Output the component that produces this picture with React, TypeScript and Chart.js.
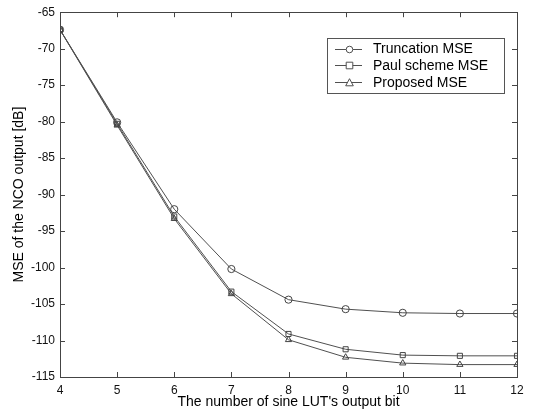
import React, { useEffect, useRef } from "react";
import { Chart, registerables } from "chart.js";

Chart.register(...registerables);

const bits = [4, 5, 6, 7, 8, 9, 10, 11, 12];
const truncationMSE = [-67.4, -80.1, -92.0, -100.2, -104.4, -105.7, -106.2, -106.3, -106.3];
const paulMSE = [-67.4, -80.3, -93.0, -103.3, -109.1, -111.2, -112.0, -112.1, -112.1];
const proposedMSE = [-67.4, -80.5, -93.3, -103.6, -109.9, -112.3, -113.1, -113.3, -113.3];
const seriesLabels = ["Truncation MSE", "Paul scheme MSE", "Proposed MSE"];
const seriesMarkers = ["circle", "rect", "triangle"];
const xTitle = "The number of sine LUT's output bit";
const yTitle = "MSE of the NCO output [dB]";

const FONT = "'Liberation Sans', Arial, sans-serif";
const LINE = "#505050";

const boxPlugin = {
  id: "matlabBox",
  afterDraw(chart: any) {
    const { ctx, chartArea, scales } = chart;
    const { left, right, top, bottom } = chartArea;
    ctx.save();
    ctx.strokeStyle = "#444";
    ctx.lineWidth = 1;
    ctx.strokeRect(Math.round(left) + 0.5, Math.round(top) + 0.5, Math.round(right - left), Math.round(bottom - top));
    const tl = 5;
    ctx.beginPath();
    scales.x.ticks.forEach((t: any) => {
      const px = Math.round(scales.x.getPixelForValue(t.value)) + 0.5;
      ctx.moveTo(px, bottom);
      ctx.lineTo(px, bottom - tl);
      ctx.moveTo(px, top);
      ctx.lineTo(px, top + tl);
    });
    scales.y.ticks.forEach((t: any) => {
      const py = Math.round(scales.y.getPixelForValue(t.value)) + 0.5;
      ctx.moveTo(left, py);
      ctx.lineTo(left + tl, py);
      ctx.moveTo(right, py);
      ctx.lineTo(right - tl, py);
    });
    ctx.stroke();

    // legend box
    const lx = 327, ly = 38, lw = 177, lh = 55;
    ctx.fillStyle = "#fff";
    ctx.fillRect(lx, ly, lw, lh);
    ctx.strokeStyle = "#555";
    ctx.strokeRect(lx + 0.5, ly + 0.5, lw, lh);
    ctx.font = `14px ${FONT}`;
    ctx.textBaseline = "middle";
    chart.data.datasets.forEach((ds: any, i: number) => {
      const cy = 48.5 + i * 16.7;
      ctx.strokeStyle = LINE;
      ctx.beginPath();
      ctx.moveTo(335, Math.round(cy) + 0.5);
      ctx.lineTo(362, Math.round(cy) + 0.5);
      ctx.stroke();
      const r = 3.3;
      const mx = 349.5, my = Math.round(cy) + 0.5;
      ctx.beginPath();
      if (ds.pointStyle === "circle") {
        ctx.arc(mx, my, r, 0, Math.PI * 2);
      } else if (ds.pointStyle === "rect") {
        ctx.rect(mx - r, my - r, 2 * r, 2 * r);
      } else {
        ctx.moveTo(mx, my - r - 0.5);
        ctx.lineTo(mx + r + 0.5, my + r);
        ctx.lineTo(mx - r - 0.5, my + r);
        ctx.closePath();
      }
      ctx.fillStyle = "#fff";
      ctx.fill();
      ctx.stroke();
      ctx.fillStyle = "#000";
      ctx.fillText(ds.label, 373, cy + 1);
    });
    ctx.restore();
  },
};

export default function App() {
  const ref = useRef<HTMLCanvasElement | null>(null);
  useEffect(() => {
    if (!ref.current) return;
    const datasetsData = [truncationMSE, paulMSE, proposedMSE];
    const chart = new Chart(ref.current, {
      type: "line",
      data: {
        labels: bits,
        datasets: datasetsData.map((d, i) => ({
          label: seriesLabels[i],
          data: bits.map((b, j) => ({ x: b, y: d[j] })),
          borderColor: LINE,
          borderWidth: 1,
          pointStyle: seriesMarkers[i] as any,
          pointRadius: 3.6,
          pointBorderColor: "#444",
          pointBorderWidth: 1,
          pointBackgroundColor: "rgba(0,0,0,0)",
          tension: 0,
          fill: false,
        })),
      },
      options: {
        responsive: false,
        animation: false,
        devicePixelRatio: 1,
        layout: { padding: { left: 0, right: 18, top: 12, bottom: 0 } },
        plugins: {
          legend: { display: false },
          tooltip: { enabled: false },
        },
        scales: {
          x: {
            type: "linear",
            min: 4,
            max: 12,
            ticks: { stepSize: 1, padding: 6, color: "#111", font: { family: FONT, size: 12 }, maxRotation: 0 },
            grid: { display: false, drawTicks: false },
            border: { display: false },
            title: { display: true, text: xTitle, color: "#000", font: { family: FONT, size: 14 }, padding: { top: 0, bottom: 2.5 } },
            afterFit: (s: any) => { s.height = 36; },
          },
          y: {
            type: "linear",
            min: -115,
            max: -65,
            ticks: { stepSize: 5, padding: 5, color: "#111", font: { family: FONT, size: 12 } },
            grid: { display: false, drawTicks: false },
            border: { display: false },
            title: { display: true, text: yTitle, color: "#000", font: { family: FONT, size: 14 }, padding: { top: 11, bottom: 0 } },
            afterFit: (s: any) => { s.width = 60; },
          },
        },
      },
      plugins: [boxPlugin],
    });
    return () => chart.destroy();
  }, []);
  return (
    <div style={{ position: "absolute", left: 0, top: 0, width: 535, height: 413, background: "#fff" }}>
      <canvas ref={ref} width={535} height={413} style={{ display: "block" }} />
    </div>
  );
}
